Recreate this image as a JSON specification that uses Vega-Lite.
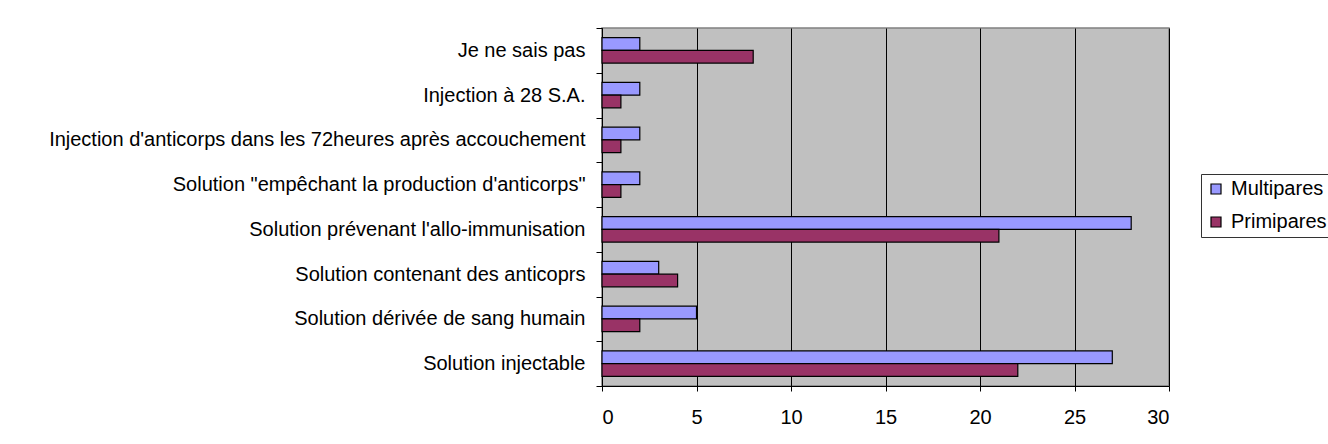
{
  "$schema": "https://vega.github.io/schema/vega-lite/v6.json",
  "autosize": {"type": "none"},
  "width": 567,
  "height": 358,
  "padding": {"left": 602, "top": 28, "right": 159, "bottom": 58},
  "background": "white",
  "config": {
    "font": "Liberation Sans",
    "view": {"fill": "#C0C0C0", "stroke": "#808080", "strokeWidth": 1.5},
    "axis": {"labelFont": "Liberation Sans", "labelFontSize": 20, "labelColor": "#000", "domainColor": "#000", "tickColor": "#000"}
  },
  "data": {
    "values": [
      {"cat": "Je ne sais pas", "serie": "Multipares", "v": 2},
      {"cat": "Je ne sais pas", "serie": "Primipares", "v": 8},
      {"cat": "Injection à 28 S.A.", "serie": "Multipares", "v": 2},
      {"cat": "Injection à 28 S.A.", "serie": "Primipares", "v": 1},
      {"cat": "Injection d'anticorps dans les 72heures après accouchement", "serie": "Multipares", "v": 2},
      {"cat": "Injection d'anticorps dans les 72heures après accouchement", "serie": "Primipares", "v": 1},
      {"cat": "Solution \"empêchant la production d'anticorps\"", "serie": "Multipares", "v": 2},
      {"cat": "Solution \"empêchant la production d'anticorps\"", "serie": "Primipares", "v": 1},
      {"cat": "Solution prévenant l'allo-immunisation", "serie": "Multipares", "v": 28},
      {"cat": "Solution prévenant l'allo-immunisation", "serie": "Primipares", "v": 21},
      {"cat": "Solution contenant des anticoprs", "serie": "Multipares", "v": 3},
      {"cat": "Solution contenant des anticoprs", "serie": "Primipares", "v": 4},
      {"cat": "Solution dérivée de sang humain", "serie": "Multipares", "v": 5},
      {"cat": "Solution dérivée de sang humain", "serie": "Primipares", "v": 2},
      {"cat": "Solution injectable", "serie": "Multipares", "v": 27},
      {"cat": "Solution injectable", "serie": "Primipares", "v": 22}
    ]
  },
  "mark": {"type": "bar", "stroke": "#000", "strokeWidth": 1.2},
  "encoding": {
    "y": {
      "field": "cat", "type": "nominal", "sort": null, "title": null,
      "scale": {"paddingInner": 0, "paddingOuter": 0},
      "axis": {"tickBand": "extent", "tickSize": 6, "labelPadding": 11, "labelLimit": 700, "grid": false}
    },
    "yOffset": {
      "field": "serie", "type": "nominal",
      "scale": {"domain": ["Multipares", "Primipares"], "paddingInner": 0, "paddingOuter": 0.76}
    },
    "x": {
      "field": "v", "type": "quantitative", "title": null,
      "scale": {"domain": [0, 30], "nice": false},
      "axis": {"values": [0, 5, 10, 15, 20, 25, 30], "grid": true, "gridColor": "#000", "gridWidth": 1, "tickSize": 5, "labelPadding": 16}
    },
    "color": {
      "field": "serie", "type": "nominal", "title": null,
      "scale": {"domain": ["Multipares", "Primipares"], "range": ["#9999FF", "#993366"]},
      "legend": {
        "orient": "none", "legendX": 599, "legendY": 146,
        "symbolType": "square", "symbolSize": 100, "symbolStrokeColor": "#000", "symbolStrokeWidth": 1.2,
        "labelFontSize": 20, "labelFont": "Liberation Sans", "labelColor": "#000", "labelOffset": 5,
        "rowPadding": 13, "padding": 5, "strokeColor": "#333", "fillColor": "white"
      }
    }
  }
}
